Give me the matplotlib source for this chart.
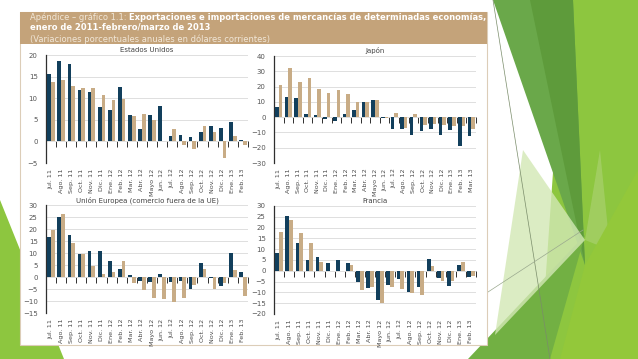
import numpy as np
import matplotlib
matplotlib.use("Agg")
import matplotlib.pyplot as plt
from matplotlib.patches import Polygon, Rectangle

# ---------------- data ----------------
months_20 = ["Jul. 11", "Ago. 11", "Sep. 11", "Oct. 11", "Nov. 11", "Dic. 11",
             "Ene. 12", "Feb. 12", "Mar. 12", "Abr. 12", "Mayo 12", "Jun. 12",
             "Jul. 12", "Ago. 12", "Sep. 12", "Oct. 12", "Nov. 12", "Dic. 12",
             "Ene. 13", "Feb. 13"]
months_21 = months_20 + ["Mar. 13"]

us_exp = [15.5, 18.5, 18.0, 11.9, 11.4, 7.9, 7.3, 12.5, 6.1, 2.8, 6.2, 8.2,
          1.2, 1.5, 1.0, 2.2, 3.5, 3.0, 4.5, 0.3]
us_imp = [13.7, 14.1, 12.9, 12.3, 12.3, 10.8, 9.5, 9.7, 5.9, 6.4, 5.0, 0.1,
          2.8, -0.8, -1.8, 3.5, 2.2, -3.8, 1.2, -0.8]

jp_exp = [6.5, 13.5, 12.4, 2.2, 1.1, -1.3, -2.8, 2.0, 4.8, 10.0, 11.5, -0.7,
          -7.8, -7.8, -11.5, -9.3, -7.8, -11.7, -8.3, -18.6, -12.4]
jp_imp = [21.3, 32.0, 22.8, 25.7, 18.3, 15.7, 17.6, 15.0, 9.6, 9.8, 10.9, -0.5,
          2.6, -7.2, 2.2, -5.0, -4.3, -5.0, -6.0, -6.0, -7.5]

eu_exp = [16.6, 25.0, 17.5, 9.4, 11.0, 11.0, 6.8, 3.4, 1.0, -1.8, -2.2, 1.1,
          -1.9, -1.6, -5.2, 5.9, -0.3, -3.7, 9.8, 2.2]
eu_imp = [19.4, 26.3, 14.3, 9.7, 4.4, 1.1, 2.0, 6.8, -2.7, -5.5, -8.7, -9.0,
          -10.5, -8.7, -3.4, 3.5, -5.2, -2.7, 2.9, -7.9]

fr_exp = [8.2, 25.5, 13.1, 4.8, 6.2, 3.8, 5.1, 3.8, -5.1, -8.0, -13.4, -6.8,
          -3.8, -9.7, -7.5, 5.4, -3.4, -7.2, 2.9, -3.0]
fr_imp = [18.0, 23.5, 17.5, 13.1, 4.3, 0.1, 0.1, 2.6, -8.8, -7.5, -15.0, -7.4,
          -8.3, -10.5, -11.2, 2.0, -4.9, -4.5, 4.3, -2.5]

# ---------------- styling ----------------
NAVY = "#123F5C"
TAN = "#C8AC86"
HEADER = "#C4A37A"
W, H = 638, 359

fig = plt.figure(figsize=(W / 100, H / 100), dpi=100)
fig.patch.set_facecolor("white")

bg = fig.add_axes([0, 0, 1, 1], zorder=0)
bg.set_xlim(0, W)
bg.set_ylim(H, 0)
bg.axis("off")

def poly(pts, color, alpha=1.0, z=1):
    bg.add_patch(Polygon(pts, closed=True, facecolor=color, edgecolor="none",
                         alpha=alpha, zorder=z))

# decorative green shapes (right side)
poly([(565, 0), (638, 0), (638, 359), (540, 359)], "#8DC63F", z=1)
poly([(493, 0), (573, 0), (585, 265)], "#6AA84A", z=2)
poly([(530, 0), (573, 0), (585, 265)], "#5E9B3B", z=2.1)
poly([(585, 235), (468, 359), (550, 359)], "#72B043", z=2.2)
poly([(523, 150), (585, 240), (495, 335)], "#D3E8B5", alpha=0.8, z=2.3)
poly([(585, 240), (600, 150), (610, 250)], "#A9D16E", alpha=0.7, z=2.3)
poly([(585, 265), (638, 170), (638, 359), (560, 359)], "#93C83A", z=2.4)
bg.plot([493, 550], [0, 359], color="#7A8C6A", lw=0.5, zorder=2.5)
bg.plot([488, 583], [292, 230], color="#9AA88E", lw=0.5, zorder=2.5)
# left green wedge
poly([(0, 200), (64, 359), (0, 359)], "#8DC63F", z=1)

# chart panel
bg.add_patch(Rectangle((20, 12), 467, 333, facecolor="white",
                       edgecolor="#DCCDB8", lw=0.8, zorder=3))
bg.add_patch(Rectangle((20, 12), 467, 32, facecolor=HEADER,
                       edgecolor="none", zorder=4))

FS = 6.0
t1 = bg.text(30, 21.5, "Apéndice – gráfico 1.1: ", color="#F1E7D8",
             fontsize=FS, ha="left", va="bottom", zorder=5)
bg.annotate("Exportaciones e importaciones de mercancías de determinadas economías,",
            xy=(1, 0), xycoords=t1, color="white", fontsize=FS,
            fontweight="bold", ha="left", va="bottom", zorder=5)
bg.text(30, 32, "enero de 2011-febrero/marzo de 2013", color="white",
        fontsize=FS, fontweight="bold", ha="left", va="bottom", zorder=5)
bg.text(30, 43.5, "(Variaciones porcentuales anuales en dólares corrientes)",
        color="#F1E7D8", fontsize=FS, ha="left", va="bottom", zorder=5)


def panel(px, title, labels, exp, imp, lo, hi, step):
    l, t, r, b = px
    ax = fig.add_axes([l / W, 1 - b / H, (r - l) / W, (b - t) / H], zorder=6)
    ax.patch.set_alpha(0)
    n = len(labels)
    x = np.arange(n)
    ax.bar(x - 0.185, exp, width=0.37, color=NAVY, zorder=3)
    ax.bar(x + 0.185, imp, width=0.37, color=TAN, zorder=3)
    ax.set_xlim(-0.5, n - 0.5)
    ax.set_ylim(lo, hi)
    ax.set_yticks(np.arange(lo, hi + step / 2, step))
    ax.grid(axis="y", color="#D9D9D9", lw=0.6, zorder=0)
    ax.set_axisbelow(True)
    for s in ("top", "right", "bottom"):
        ax.spines[s].set_visible(False)
    ax.spines["left"].set_color("#2F2F2F")
    ax.spines["left"].set_linewidth(0.9)
    ax.tick_params(axis="y", length=0, labelsize=5, labelcolor="#555555", pad=6)
    ax.set_xticks(x)
    ax.set_xticklabels(labels, rotation=90, fontsize=4.6, color="#4A4A4A")
    ax.tick_params(axis="x", length=0, pad=4)
    sec = ax.secondary_xaxis(0, transform=ax.transData)
    sec.set_xticks(np.arange(n) + 0.5)
    sec.tick_params(length=4, width=0.7, color="#2F2F2F", labelbottom=False)
    sec.spines["bottom"].set_visible(False)
    ax.set_title(title, fontsize=5, color="#444444", pad=2)
    return ax


panel((46, 55, 248, 163), "Estados Unidos", months_20, us_exp, us_imp, -5, 20, 5)
panel((274, 56, 476, 163), "Japón", months_21, jp_exp, jp_imp, -30, 40, 10)
panel((46, 205, 248, 313), "Unión Europea (comercio fuera de la UE)",
      months_20, eu_exp, eu_imp, -15, 30, 5)
panel((274, 206, 476, 314), "Francia", months_20, fr_exp, fr_imp, -20, 30, 5)

fig.savefig("out.png", dpi=100)
